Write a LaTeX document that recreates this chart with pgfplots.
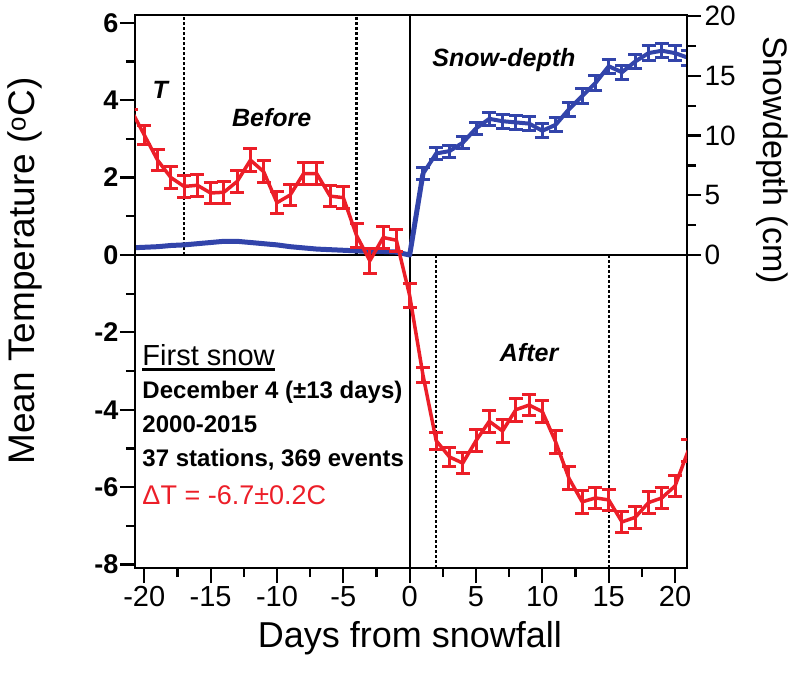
\documentclass[border=0pt]{standalone}
\usepackage{pgfplots}
\pgfplotsset{compat=1.18}
\usepackage{pgfplotstable}
\usepackage{fontspec}
\setmainfont{Liberation Sans}

\definecolor{tred}{RGB}{236,30,40}
\definecolor{sblue}{RGB}{50,68,170}
\newcommand{\fs}[1]{\fontsize{#1bp}{#1bp}\selectfont}

% mean temperature (C) and standard error, by day from snowfall
\pgfplotstableread{
day T e
-21 3.75 0.00
-20 3.10 0.25
-19 2.45 0.28
-18 2.00 0.28
-17 1.77 0.28
-16 1.80 0.28
-15 1.60 0.28
-14 1.62 0.28
-13 1.90 0.28
-12 2.45 0.30
-11 2.15 0.28
-10 1.35 0.28
-9 1.55 0.28
-8 2.10 0.28
-7 2.10 0.28
-6 1.52 0.28
-5 1.48 0.28
-4 0.50 0.30
-3 -0.15 0.32
-2 0.45 0.28
-1 0.38 0.28
0 -1.05 0.30
1 -3.10 0.20
2 -4.80 0.22
3 -5.22 0.25
4 -5.38 0.28
5 -4.80 0.28
6 -4.30 0.28
7 -4.55 0.30
8 -4.00 0.30
9 -3.88 0.28
10 -4.05 0.28
11 -4.83 0.30
12 -5.77 0.30
13 -6.38 0.30
14 -6.28 0.28
15 -6.33 0.28
16 -6.90 0.28
17 -6.78 0.28
18 -6.40 0.28
19 -6.28 0.28
20 -5.97 0.28
21 -5.05 0.28
}\temptab

% snow depth (cm) before the first snow
\pgfplotstableread{
day d
-21 0.60
-20 0.65
-19 0.70
-18 0.80
-17 0.85
-16 0.95
-15 1.05
-14 1.15
-13 1.15
-12 1.05
-11 0.95
-10 0.85
-9 0.70
-8 0.60
-7 0.50
-6 0.45
-5 0.40
-4 0.35
-3 0.30
-2 0.30
-1 0.25
0 0.00
1 6.80
}\snowbefore

% snow depth (cm) and standard error after the first snow
\pgfplotstableread{
day d e
1 6.8 0.5
2 8.5 0.5
3 8.7 0.5
4 9.4 0.5
5 10.6 0.5
6 11.4 0.55
7 11.2 0.6
8 11.1 0.6
9 11.0 0.6
10 10.4 0.6
11 10.9 0.6
12 12.2 0.6
13 13.3 0.6
14 14.4 0.6
15 15.8 0.6
16 15.3 0.6
17 16.2 0.6
18 16.9 0.6
19 17.1 0.6
20 16.9 0.6
21 16.5 0.6
}\snowafter

\begin{document}
\begin{tikzpicture}
\useasboundingbox (-135bp,-106bp) rectangle (661bp,568bp);

% snow depth on the right-hand axis
\begin{axis}[
  scale only axis, width=552bp, height=553bp,
  xmin=-20.7, xmax=20.9, ymin=-26.19, ymax=20.09,
  axis x line=none, axis y line*=right,
  axis line style={line width=2.5bp, -},
  ytick={0,5,...,20}, minor ytick={2.5,7.5,12.5,17.5},
  tick align=outside,
  major tick length=14bp, minor tick length=9bp,
  every tick/.style={black, line width=2.2bp},
  y tick label style={font=\fs{28}},
  /pgf/number format/assume math mode=true,
]
% reference lines
\addplot[black, line width=2.4bp] coordinates {(-20.7,0) (20.9,0)};
\addplot[black, line width=1.8bp] coordinates {(0,-26.19) (0,20.09)};
\addplot[black, line width=2.4bp, dash pattern=on 3bp off 2bp] coordinates {(-17,0) (-17,20.09)};
\addplot[black, line width=2.4bp, dash pattern=on 3bp off 2bp] coordinates {(-4,0) (-4,20.09)};
\addplot[black, line width=2.4bp, dash pattern=on 3bp off 2bp] coordinates {(2,0) (2,-26.19)};
\addplot[black, line width=2.4bp, dash pattern=on 3bp off 2bp] coordinates {(15,0) (15,-26.19)};
% snow depth
\addplot[sblue, line width=5bp, line join=round] table[x=day, y=d] {\snowbefore};
\addplot[sblue, line width=4bp, line join=round,
  error bars/.cd, y dir=both, y explicit,
  error bar style={line width=3bp, sblue},
  error mark options={sblue, line width=3bp, mark size=7bp, rotate=90}]
  table[x=day, y=d, y error=e] {\snowafter};
\end{axis}

% temperature on the left-hand axis
\begin{axis}[
  scale only axis, width=552bp, height=553bp,
  xmin=-20.7, xmax=20.9, ymin=-8.09, ymax=6.2,
  axis line style={line width=2.5bp},
  xtick={-20,-15,...,20}, minor xtick={-17.5,-12.5,...,17.5},
  ytick={-8,-6,...,6}, minor ytick={-7,-5,...,5},
  tick pos=left, tick align=outside,
  major tick length=15bp, minor tick length=9bp,
  every tick/.style={black, line width=2.2bp},
  x tick label style={font=\fs{29}},
  y tick label style={font=\bfseries\fs{27}, xshift=2bp},
  /pgf/number format/assume math mode=true,
]
\addplot[tred, line width=3.5bp, line join=round,
  error bars/.cd, y dir=both, y explicit,
  error bar style={line width=3bp, tred},
  error mark options={tred, line width=3bp, mark size=7bp, rotate=90}]
  table[x=day, y=T, y error=e] {\temptab};

% period labels
\node[font=\bfseries\itshape\fs{25}] at (axis cs:-18.8,4.26) {T};
\node[font=\bfseries\itshape\fs{25}] at (axis cs:-10.4,3.54) {Before};
\node[font=\bfseries\itshape\fs{25}] at (axis cs:7.1,5.04) {Snow-depth};
\node[font=\bfseries\itshape\fs{25}] at (axis cs:9.0,-2.53) {After};

% summary block
\node[anchor=west, inner sep=0pt, font=\fs{29}] (fsn) at (axis cs:-20.15,-2.58) {First snow};
\draw[line width=3bp] ([yshift=-4.5bp]fsn.base west) -- ([yshift=-4.5bp]fsn.base east);
\node[anchor=west, inner sep=0pt, font=\bfseries\fs{24}] at (axis cs:-20.15,-3.54) {December 4 (±13 days)};
\node[anchor=west, inner sep=0pt, font=\bfseries\fs{24}] at (axis cs:-20.15,-4.37) {2000-2015};
\node[anchor=west, inner sep=0pt, font=\bfseries\fs{24}] at (axis cs:-20.15,-5.30) {37 stations, 369 events};
\node[anchor=west, inner sep=0pt, font=\fs{27}, text=tred] at (axis cs:-20.15,-6.20) {ΔT = -6.7±0.2C};
\end{axis}

% axis titles
\node[rotate=90, font=\fs{37}] at (-110bp,297bp) {Mean Temperature (\textsuperscript{o}C)};
\node[font=\fs{36}] at (275bp,-70bp) {Days from snowfall};
\node[rotate=-90, font=\fs{34}] at (637bp,408bp) {Snowdepth (cm)};
\end{tikzpicture}
\end{document}
